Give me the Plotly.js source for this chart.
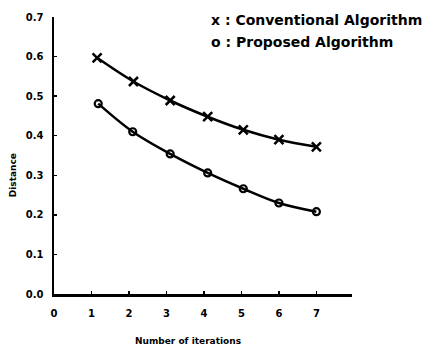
<!DOCTYPE html>
<html>
<head>
<meta charset="utf-8">
<script src="https://cdn.plot.ly/plotly-3.0.1.min.js"></script>
<style>html,body{margin:0;padding:0;background:#fff;}#chart{width:424px;height:345px;}</style>
</head>
<body>
<div id="chart"></div>
<script>
const iterConv = [1.15, 2.12, 3.1, 4.1, 5.05, 6.0, 7.0];
const distConv = [0.597, 0.537, 0.489, 0.448, 0.415, 0.39, 0.372];
const iterProp = [1.18, 2.1, 3.1, 4.1, 5.05, 6.0, 7.0];
const distProp = [0.481, 0.41, 0.354, 0.306, 0.266, 0.23, 0.208];
const xTicks = [0, 1, 2, 3, 4, 5, 6, 7];
const yTicks = [0.0, 0.1, 0.2, 0.3, 0.4, 0.5, 0.6, 0.7];

const font = {family: 'DejaVu Sans', color: '#000'};
const traces = [
  {x: iterConv, y: distConv, mode: 'lines+markers', line: {color: '#000', width: 2.5, shape: 'spline'},
   marker: {symbol: 'x-thin-open', size: 9, line: {color: '#000', width: 2.5}}, showlegend: false},
  {x: iterProp, y: distProp, mode: 'lines+markers', line: {color: '#000', width: 2.5, shape: 'spline'},
   marker: {symbol: 'circle-open', size: 7, color: '#000', line: {color: '#000', width: 2.2}}, showlegend: false}
];
const layout = {
  width: 424, height: 345,
  margin: {l: 54, r: 72, t: 17, b: 51},
  paper_bgcolor: '#fff', plot_bgcolor: '#fff',
  xaxis: {range: [0, 7.95], tickvals: xTicks, ticktext: xTicks.map(String),
    showgrid: false, zeroline: false, showline: true, linecolor: '#000', linewidth: 2.5,
    ticks: 'inside', ticklen: 3, tickwidth: 1.5, tickcolor: '#000',
    tickfont: Object.assign({size: 10, weight: 'bold'}, font), ticklabelstandoff: 8},
  yaxis: {range: [0, 0.7], tickvals: yTicks, tickformat: '.1f',
    showgrid: false, zeroline: false, showline: true, linecolor: '#000', linewidth: 2.5,
    ticks: 'inside', ticklen: 3, tickwidth: 1.5, tickcolor: '#000',
    tickfont: Object.assign({size: 10, weight: 'bold'}, font), ticklabelstandoff: 6},
  annotations: [
    {text: '<b>Number of iterations</b>', xref: 'paper', yref: 'paper', x: 0.45, y: -0.145, yanchor: 'top',
     showarrow: false, font: Object.assign({size: 9}, font)},
    {text: '<b>Distance</b>', xref: 'paper', yref: 'paper', x: -0.16, y: 0.43, textangle: -90,
     showarrow: false, font: Object.assign({size: 9}, font)},
    {text: '<b>x : Conventional Algorithm</b>', xref: 'paper', yref: 'paper', x: 0.52, xanchor: 'left', y: 1.025,
     showarrow: false, font: Object.assign({size: 14}, font)},
    {text: '<b>o : Proposed Algorithm</b>', xref: 'paper', yref: 'paper', x: 0.52, xanchor: 'left', y: 0.945,
     showarrow: false, font: Object.assign({size: 14}, font)}
  ]
};
Plotly.newPlot('chart', traces, layout, {displayModeBar: false, staticPlot: true});
</script>
</body>
</html>
